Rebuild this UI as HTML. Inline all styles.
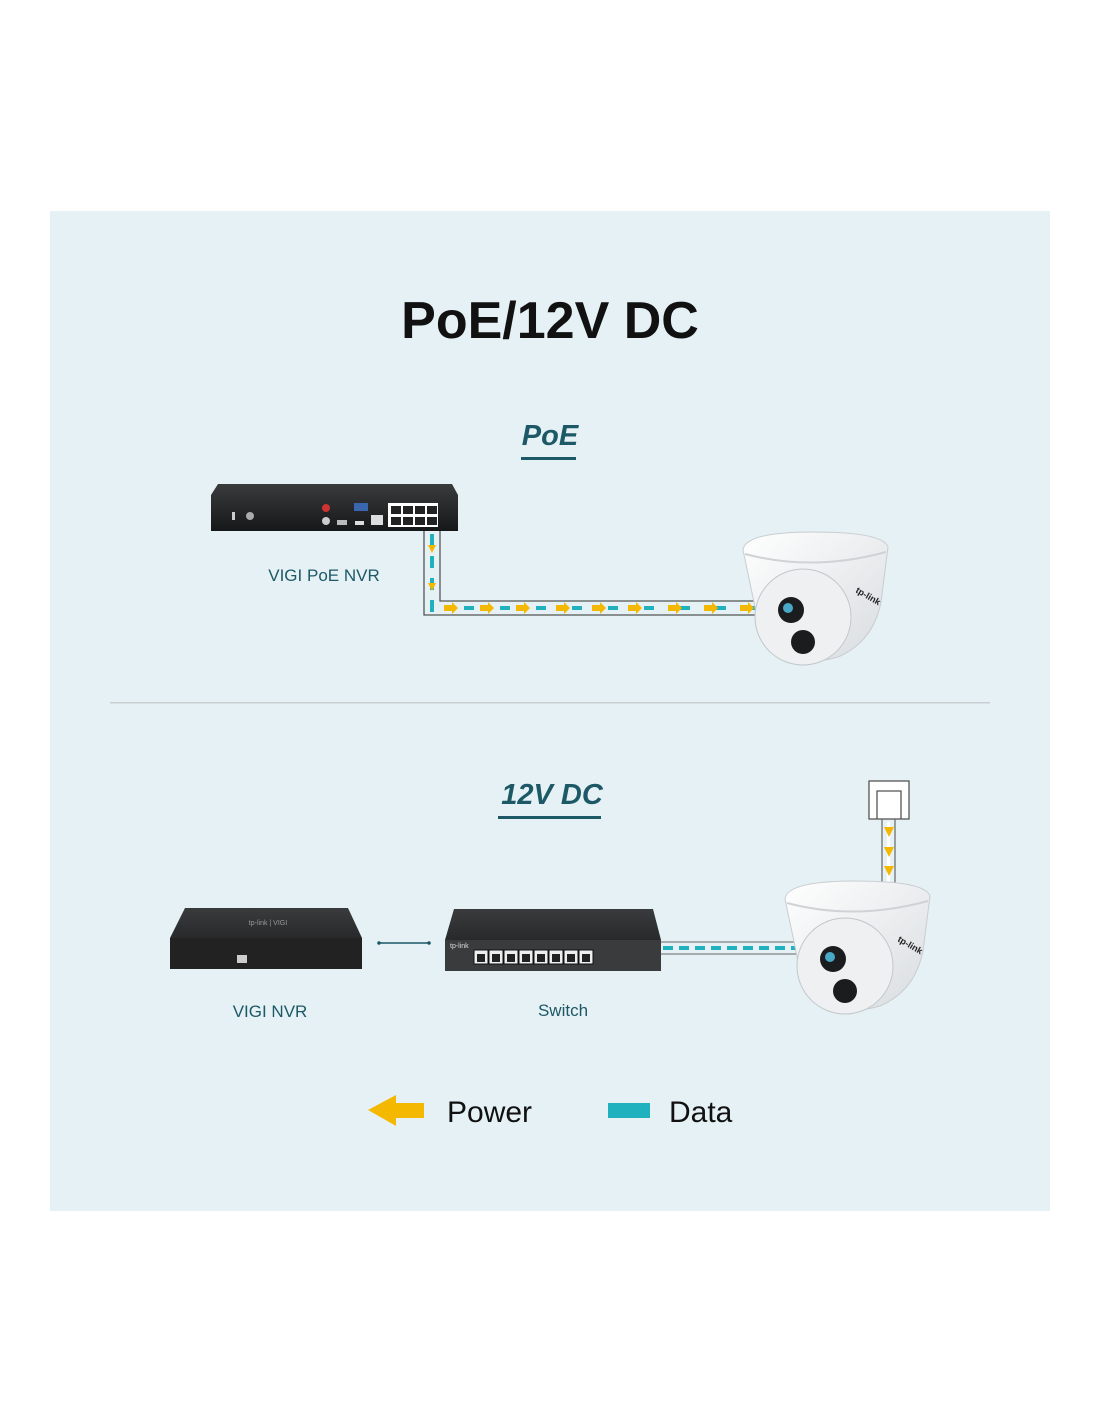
<!DOCTYPE html>
<html><head><meta charset="utf-8"><style>
html,body{margin:0;padding:0;background:#fff;}
svg{display:block;font-family:"Liberation Sans",sans-serif;}
</style></head><body>
<svg width="1100" height="1422" viewBox="0 0 1100 1422" xmlns="http://www.w3.org/2000/svg">
<defs>
<linearGradient id="cam" x1="0" y1="0" x2="1" y2="1"><stop offset="0" stop-color="#ffffff"/><stop offset="1" stop-color="#d8dcdf"/></linearGradient>
<linearGradient id="box" x1="0" y1="0" x2="0" y2="1"><stop offset="0" stop-color="#3a3b3d"/><stop offset="1" stop-color="#161718"/></linearGradient>
<g id="camera">
 <path d="M0,18 Q2,0 70,0 Q140,0 145,15 L138,70 Q130,110 95,125 Q60,135 35,120 Q15,105 12,75 Z" fill="url(#cam)" stroke="#c9cdd0" stroke-width="1"/>
 <path d="M2,22 Q70,40 143,20" fill="none" stroke="#cfd3d6" stroke-width="2"/>
 <ellipse cx="60" cy="85" rx="48" ry="48" fill="#eef0f1" stroke="#c3c7ca"/>
 <circle cx="48" cy="78" r="13" fill="#1b1c1e"/>
 <circle cx="45" cy="76" r="5" fill="#4aa8c7"/>
 <circle cx="60" cy="110" r="12" fill="#1b1c1e"/>
 <text x="112" y="60" font-size="9" font-weight="bold" fill="#222" transform="rotate(30 112 60)">tp-link</text>
</g>
</defs>
<rect x="50" y="211" width="1000" height="1000" fill="#e5f1f4"/>
<text x="550" y="338" font-size="52" font-weight="bold" text-anchor="middle" fill="#111">PoE/12V DC</text>
<text x="550" y="445" font-size="29" font-weight="bold" font-style="italic" text-anchor="middle" fill="#1d5866">PoE</text>
<rect x="521" y="457" width="55" height="3" fill="#1d5866"/>

<!-- PoE NVR -->
<path d="M218,484 L452,484 L458,495 L458,531 L211,531 L211,495 Z" fill="url(#box)"/>
<rect x="388" y="503" width="50" height="24" fill="#fff"/>
<g fill="#222"><rect x="391" y="506" width="10" height="8"/><rect x="403" y="506" width="10" height="8"/><rect x="415" y="506" width="10" height="8"/><rect x="427" y="506" width="10" height="8"/><rect x="391" y="517" width="10" height="8"/><rect x="403" y="517" width="10" height="8"/><rect x="415" y="517" width="10" height="8"/><rect x="427" y="517" width="10" height="8"/></g>
<rect x="371" y="515" width="12" height="10" fill="#ddd"/>
<rect x="354" y="503" width="14" height="8" fill="#3a66b0"/>
<circle cx="326" cy="508" r="4" fill="#c33"/><circle cx="326" cy="521" r="4" fill="#ccc"/>
<rect x="337" y="520" width="10" height="5" fill="#bbb"/><rect x="355" y="521" width="9" height="4" fill="#ddd"/>
<circle cx="250" cy="516" r="4" fill="#aaa"/><rect x="232" y="512" width="3" height="8" fill="#ccc"/>
<text x="324" y="581" font-size="17" text-anchor="middle" fill="#1d5866">VIGI PoE NVR</text>

<!-- PoE cable -->
<path d="M424,531 L424,615 L760,615 M440,531 L440,601 L760,601" fill="none" stroke="#555" stroke-width="1.3"/>
<line x1="432" y1="534" x2="432" y2="612" stroke="#1fb1be" stroke-width="4" stroke-dasharray="12,10"/>
<g fill="#f5b800">
<path d="M428,545 l8,0 l-4,8 z"/><path d="M428,583 l8,0 l-4,8 z"/>
</g>
<line x1="446" y1="608" x2="755" y2="608" stroke="#1fb1be" stroke-width="4" stroke-dasharray="10,26" stroke-dashoffset="-18"/>
<g fill="#f5b800">
<path d="M444,605 h8 v-3 l6,6 l-6,6 v-3 h-8z"/>
<path d="M480,605 h8 v-3 l6,6 l-6,6 v-3 h-8z"/>
<path d="M516,605 h8 v-3 l6,6 l-6,6 v-3 h-8z"/>
<path d="M556,605 h8 v-3 l6,6 l-6,6 v-3 h-8z"/>
<path d="M592,605 h8 v-3 l6,6 l-6,6 v-3 h-8z"/>
<path d="M628,605 h8 v-3 l6,6 l-6,6 v-3 h-8z"/>
<path d="M668,605 h8 v-3 l6,6 l-6,6 v-3 h-8z"/>
<path d="M704,605 h8 v-3 l6,6 l-6,6 v-3 h-8z"/>
<path d="M740,605 h8 v-3 l6,6 l-6,6 v-3 h-8z"/>
</g>
<use href="#camera" x="743" y="532"/>

<rect x="110" y="702" width="880" height="1.5" fill="#c9cfd1"/>

<text x="552" y="804" font-size="29" font-weight="bold" font-style="italic" text-anchor="middle" fill="#1d5866">12V DC</text>
<rect x="498" y="816" width="103" height="3" fill="#1d5866"/>

<!-- VIGI NVR -->
<path d="M185,908 L348,908 L362,938 L362,969 L170,969 L170,938 Z" fill="url(#box)"/>
<rect x="170" y="938" width="192" height="31" fill="#222"/>
<rect x="237" y="955" width="10" height="8" fill="#ccc"/>
<text x="268" y="925" font-size="7" fill="#999" text-anchor="middle">tp-link | VIGI</text>
<text x="270" y="1017" font-size="17" text-anchor="middle" fill="#1d5866">VIGI NVR</text>
<line x1="379" y1="943" x2="429" y2="943" stroke="#1d5866" stroke-width="1.5"/>
<circle cx="379" cy="943" r="1.8" fill="#1d5866"/><circle cx="429" cy="943" r="1.8" fill="#1d5866"/>

<!-- Switch -->
<path d="M454,909 L653,909 L661,940 L661,971 L445,971 L445,940 Z" fill="url(#box)"/>
<rect x="445" y="940" width="216" height="31" fill="#3a3b3c"/>
<g fill="#eee" stroke="#111" stroke-width="1">
<rect x="474" y="950" width="14" height="14"/><rect x="489" y="950" width="14" height="14"/><rect x="504" y="950" width="14" height="14"/><rect x="519" y="950" width="14" height="14"/><rect x="534" y="950" width="14" height="14"/><rect x="549" y="950" width="14" height="14"/><rect x="564" y="950" width="14" height="14"/><rect x="579" y="950" width="14" height="14"/>
</g>
<g fill="#222"><rect x="477" y="954" width="8" height="8"/><rect x="492" y="954" width="8" height="8"/><rect x="507" y="954" width="8" height="8"/><rect x="522" y="954" width="8" height="8"/><rect x="537" y="954" width="8" height="8"/><rect x="552" y="954" width="8" height="8"/><rect x="567" y="954" width="8" height="8"/><rect x="582" y="954" width="8" height="8"/></g>
<text x="450" y="948" font-size="7" fill="#ddd">tp-link</text>
<text x="563" y="1016" font-size="17" text-anchor="middle" fill="#1d5866">Switch</text>

<!-- data cable -->
<path d="M661,942 L800,942 M661,954 L800,954" stroke="#666" stroke-width="1"/>
<line x1="663" y1="948" x2="800" y2="948" stroke="#1fb1be" stroke-width="4" stroke-dasharray="10,6"/>

<!-- power outlet -->
<rect x="869" y="781" width="40" height="38" fill="#fff" stroke="#555" stroke-width="1.3"/>
<path d="M877,819 L877,791 L901,791 L901,819" fill="none" stroke="#555" stroke-width="1.3"/>
<path d="M882,819 L882,884 M895,819 L895,884" stroke="#666" stroke-width="1.2"/>
<rect x="887" y="822" width="3" height="60" fill="#fff"/>
<g fill="#f5b800"><path d="M884,827 h10 l-5,10 z"/><path d="M884,847 h10 l-5,10 z"/><path d="M884,866 h10 l-5,10 z"/></g>
<use href="#camera" x="785" y="881"/>

<!-- legend -->
<path d="M368,1110 L396,1095 L396,1103 L424,1103 L424,1118 L396,1118 L396,1126 Z" fill="#f5b800"/>
<text x="447" y="1122" font-size="30" fill="#111">Power</text>
<rect x="608" y="1103" width="42" height="15" fill="#1fb1be"/>
<text x="669" y="1122" font-size="30" fill="#111">Data</text>
</svg>
</body></html>
